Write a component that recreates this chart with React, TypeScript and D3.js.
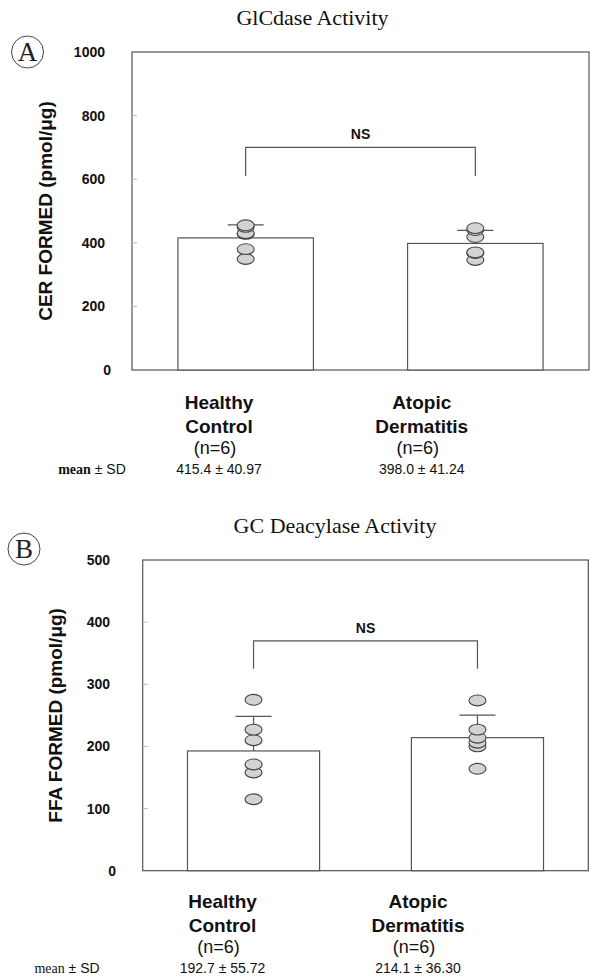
import React from "react";
import * as d3 from "d3";

// ---------- data ----------
const categories = ["Healthy Control", "Atopic Dermatitis"];
const categoryLines = [["Healthy", "Control"], ["Atopic", "Dermatitis"]];
const nLabels = ["(n=6)", "(n=6)"];

const glcTitle = "GlCdase Activity";
const glcYLabel = "CER FORMED (pmol/μg)";
const glcMeans = [415.4, 398.0];
const glcSD = [40.97, 41.24];
const glcPoints = [
  [455, 450, 430, 428, 380, 349],
  [446, 440, 418, 370, 368, 346],
];
const glcTicks = [0, 200, 400, 600, 800, 1000];
const glcMax = 1000;
const glcBracket = [700, 610];

const gcTitle = "GC Deacylase Activity";
const gcYLabel = "FFA FORMED (pmol/μg)";
const gcMeans = [192.7, 214.1];
const gcSD = [55.72, 36.3];
const gcPoints = [
  [275, 227, 210, 171, 158, 115],
  [274, 227, 214, 206, 200, 164],
];
const gcTicks = [0, 100, 200, 300, 400, 500];
const gcMax = 500;
const gcBracket = [370, 325];

const SANS = "'Liberation Sans', Arial, Helvetica, sans-serif";
const SERIF = "'Liberation Serif', 'Times New Roman', serif";
const STROKE = "#555";

type PanelProps = {
  letter: string;
  letterPos: [number, number];
  title: string;
  titlePos: [number, number];
  yLabel: string;
  yLabelX: number;
  means: number[];
  sds: number[];
  points: number[][];
  ticks: number[];
  max: number;
  bracket: number[];
  frameX: [number, number];
  frameY: [number, number];
  tickX: number;
  labelRange: [number, number];
  labelTop: number;
  meanX: number;
  meanBold: boolean;
};

function Panel(p: PanelProps) {
  const x = d3
    .scaleBand<string>()
    .domain(categories)
    .range(p.frameX)
    .paddingInner(0.41)
    .paddingOuter(0.2);
  const y = d3.scaleLinear().domain([0, p.max]).range(p.frameY);
  const lx = d3.scalePoint<string>().domain(categories).range(p.labelRange);
  const bw = x.bandwidth();
  const cx = (c: string) => (x(c) as number) + bw / 2;
  const y0 = y(0);
  const yTop = y(p.max);
  const capHalf = 18;

  const legL = cx(categories[0]);
  const legR = cx(categories[1]);

  return (
    <g>
      {/* panel letter */}
      <circle cx={p.letterPos[0]} cy={p.letterPos[1]} r={16} fill="none" stroke="#444" strokeWidth={1} />
      <text
        x={p.letterPos[0]}
        y={p.letterPos[1] + 9}
        textAnchor="middle"
        fontFamily={SERIF}
        fontSize={27}
        fill="#222"
      >
        {p.letter}
      </text>
      {/* title */}
      <text x={p.titlePos[0]} y={p.titlePos[1]} textAnchor="middle" fontFamily={SERIF} fontSize={22} fill="#111">
        {p.title}
      </text>
      {/* frame */}
      <rect
        x={p.frameX[0]}
        y={yTop}
        width={p.frameX[1] - p.frameX[0]}
        height={y0 - yTop}
        fill="none"
        stroke={STROKE}
        strokeWidth={1.2}
      />
      {/* ticks */}
      {p.ticks.map((t) => (
        <g key={t}>
          {t !== 0 && t !== p.max && (
            <line x1={p.frameX[0]} x2={p.frameX[0] + 5} y1={y(t)} y2={y(t)} stroke="#bbb" strokeWidth={1} />
          )}
          <text
            x={p.tickX + (t === 0 ? 6 : 0)}
            y={y(t) + 5}
            textAnchor="end"
            fontFamily={SANS}
            fontWeight="bold"
            fontSize={14}
            fill="#111"
          >
            {t}
          </text>
        </g>
      ))}
      {/* y label */}
      <text
        transform={`translate(${p.yLabelX},${(y0 + yTop) / 2}) rotate(-90)`}
        textAnchor="middle"
        dy="0.35em"
        fontFamily={SANS}
        fontWeight="bold"
        fontSize={19}
        fill="#111"
      >
        {p.yLabel}
      </text>
      {/* bars */}
      {categories.map((c, i) => (
        <rect
          key={c}
          x={x(c)}
          y={y(p.means[i])}
          width={bw}
          height={y0 - y(p.means[i])}
          fill="#fff"
          stroke={STROKE}
          strokeWidth={1.2}
        />
      ))}
      {/* error bars (upper) */}
      {categories.map((c, i) => {
        const top = y(p.means[i] + p.sds[i]);
        return (
          <g key={c} stroke={STROKE} strokeWidth={1.2}>
            <line x1={cx(c)} x2={cx(c)} y1={y(p.means[i])} y2={top} />
            <line x1={cx(c) - capHalf} x2={cx(c) + capHalf} y1={top} y2={top} />
          </g>
        );
      })}
      {/* points */}
      {categories.map((c, i) =>
        [...p.points[i]]
          .sort((a, b) => a - b)
          .map((v, j) => (
            <ellipse
              key={c + j}
              cx={cx(c)}
              cy={y(v)}
              rx={8.5}
              ry={5.4}
              fill="#d3d3d3"
              stroke="#444"
              strokeWidth={1.1}
            />
          ))
      )}
      {/* NS bracket */}
      <path
        d={`M${legL},${y(p.bracket[1])}V${y(p.bracket[0])}H${legR}V${y(p.bracket[1])}`}
        fill="none"
        stroke={STROKE}
        strokeWidth={1.2}
      />
      <text
        x={(legL + legR) / 2}
        y={y(p.bracket[0]) - 8}
        textAnchor="middle"
        fontFamily={SANS}
        fontWeight="bold"
        fontSize={14}
        fill="#111"
      >
        NS
      </text>
      {/* category labels */}
      {categories.map((c, i) => {
        const X = lx(c) as number;
        const base = y0 + p.labelTop;
        return (
          <g key={c} fill="#111" textAnchor="middle" fontFamily={SANS}>
            <text x={X} y={base} fontWeight="bold" fontSize={19}>
              {categoryLines[i][0]}
            </text>
            <text x={X} y={base + 24} fontWeight="bold" fontSize={19}>
              {categoryLines[i][1]}
            </text>
            <text x={X - 4} y={base + 45} fontSize={18}>
              {nLabels[i]}
            </text>
            <text x={X} y={base + 65} fontSize={14}>
              {`${p.means[i].toFixed(1)} ± ${p.sds[i].toFixed(2)}`}
            </text>
          </g>
        );
      })}
      <text x={p.meanX} y={y0 + p.labelTop + 65} textAnchor="middle" fontSize={14} fill="#111">
        <tspan fontFamily={SERIF} fontWeight={p.meanBold ? "bold" : "normal"} fontSize={14}>
          mean
        </tspan>
        <tspan fontFamily={SANS}> ± SD</tspan>
      </text>
    </g>
  );
}

export default function App() {
  return (
    <svg
      width={591}
      height={977}
      style={{ position: "absolute", left: 0, top: 0, display: "block", background: "#fff" }}
    >
      <rect width={591} height={977} fill="#fff" />
      <Panel
        letter="A"
        letterPos={[27.5, 52]}
        title={glcTitle}
        titlePos={[312.5, 25]}
        yLabel={glcYLabel}
        yLabelX={45}
        means={glcMeans}
        sds={glcSD}
        points={glcPoints}
        ticks={glcTicks}
        max={glcMax}
        bracket={glcBracket}
        frameX={[132, 589]}
        frameY={[370, 52]}
        tickX={105}
        labelRange={[219, 421.7]}
        labelTop={39}
        meanX={92}
        meanBold={true}
      />
      <Panel
        letter="B"
        letterPos={[24, 549]}
        title={gcTitle}
        titlePos={[335, 533]}
        yLabel={gcYLabel}
        yLabelX={55.5}
        means={gcMeans}
        sds={gcSD}
        points={gcPoints}
        ticks={gcTicks}
        max={gcMax}
        bracket={gcBracket}
        frameX={[142.7, 588.3]}
        frameY={[870.7, 560]}
        tickX={110}
        labelRange={[222.5, 418]}
        labelTop={37.5}
        meanX={67}
        meanBold={false}
      />
    </svg>
  );
}
